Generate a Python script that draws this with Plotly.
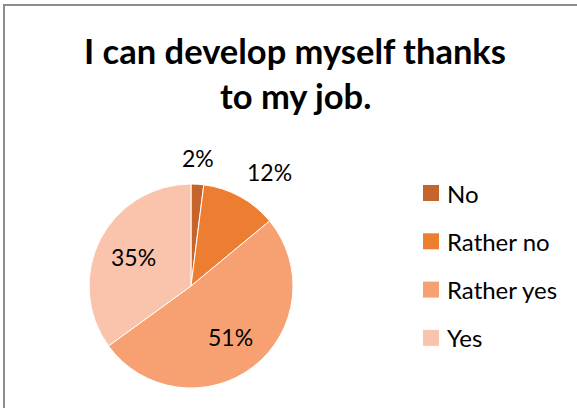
import math
import plotly.graph_objects as go

# Survey answers and their shares (percent)
labels = ["No", "Rather no", "Rather yes", "Yes"]
shares = [2, 12, 51, 35]
colors = ["#C6652B", "#ED7D31", "#F7A072", "#F9C4AB"]
label_outside = [True, True, False, False]

title_lines = ["I can develop myself thanks", "to my job."]

W, H = 577, 408
FONT = "Lato, 'Open Sans', sans-serif"

# Pie placement in pixels: centre and radius
CX, CY, R = 191, 286, 102


def px(x):
    return x / W


def py(y):
    return 1 - y / H


fig = go.Figure()

fig.add_trace(go.Pie(
    labels=labels,
    values=shares,
    sort=False,
    direction="clockwise",
    rotation=0,
    marker=dict(colors=colors, line=dict(color="white", width=1)),
    textinfo="none",
    showlegend=False,
    hoverinfo="label+percent",
    domain=dict(x=[px(CX - R), px(CX + R)], y=[py(CY + R), py(CY - R)]),
))

# Percentage labels at each slice's mid-angle (clockwise from 12 o'clock).
# Inside labels are centred; outside labels sit just past the rim and
# extend away from the pie.
total = sum(shares)
start = 0.0
for val, outside in zip(shares, label_outside):
    mid = (start + val / 2) / total * 2 * math.pi
    start += val
    s, c = math.sin(mid), math.cos(mid)
    if outside:
        dist = R + 10
        xa = "center" if abs(s) < 0.3 else ("left" if s > 0 else "right")
        ya = "middle" if abs(c) < 0.3 else ("bottom" if c > 0 else "top")
    else:
        dist = 0.63 * R
        xa, ya = "center", "middle"
    fig.add_annotation(
        text=f"{val}%", x=px(CX + dist * s), y=py(CY - dist * c),
        xref="paper", yref="paper", xanchor=xa, yanchor=ya,
        showarrow=False, font=dict(family=FONT, size=23, color="black"),
    )

# Chart title, one annotation per line
for i, line in enumerate(title_lines):
    fig.add_annotation(
        text=f"<b>{line}</b>", x=px(295), y=py(50 + i * 45),
        xref="paper", yref="paper", xanchor="center", yanchor="middle",
        showarrow=False, font=dict(family=FONT, size=34.5, color="black"),
    )

# Legend: colour square and label for each answer
shapes = []
for i, (lab, col) in enumerate(zip(labels, colors)):
    cy = 193 + i * 48.3
    shapes.append(dict(
        type="rect", xref="paper", yref="paper",
        x0=px(423), x1=px(439), y0=py(cy + 8), y1=py(cy - 8),
        fillcolor=col, line=dict(width=0),
    ))
    fig.add_annotation(
        text=lab, x=px(445), y=py(cy), xref="paper", yref="paper",
        xanchor="left", yanchor="middle", showarrow=False,
        font=dict(family=FONT, size=24, color="black"),
    )

# Chart-area frame
shapes.append(dict(
    type="rect", xref="paper", yref="paper",
    x0=px(4), x1=px(W + 10), y0=py(H + 10), y1=py(5),
    line=dict(color="#8C8C8C", width=2), fillcolor="rgba(0,0,0,0)",
))

fig.update_layout(
    width=W, height=H,
    margin=dict(l=0, r=0, t=0, b=0),
    paper_bgcolor="white", plot_bgcolor="white",
    shapes=shapes,
    showlegend=False,
)

fig.write_html("out.html")
